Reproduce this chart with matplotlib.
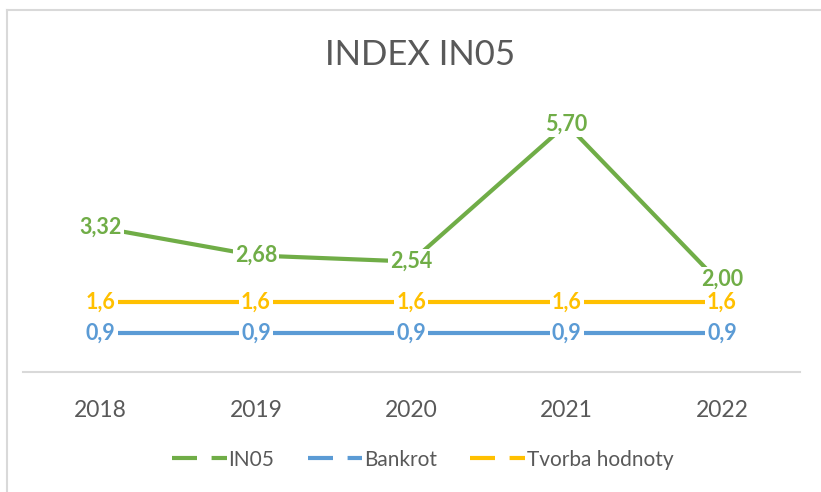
import matplotlib
matplotlib.use("Agg")
from matplotlib import pyplot as plt
from matplotlib.lines import Line2D

years = ["2018", "2019", "2020", "2021", "2022"]
in05 = [3.32, 2.68, 2.54, 5.70, 2.00]
bankrot = [0.9, 0.9, 0.9, 0.9, 0.9]
tvorba = [1.6, 1.6, 1.6, 1.6, 1.6]

in05Labels = ["3,32", "2,68", "2,54", "5,70", "2,00"]
bankrotLabels = ["0,9"] * 5
tvorbaLabels = ["1,6"] * 5

green = "#70AD47"
blue = "#5B9BD5"
yellow = "#FFC000"
grey = "#595959"

plt.rcParams["font.family"] = ["Lato", "DejaVu Sans"]

fig = plt.figure(figsize=(8.21, 4.92), dpi=100)
ax = fig.add_axes([0.028, 0.244, 0.946, 0.53])

x = list(range(len(years)))
series = [
    (in05, in05Labels, green, "IN05", 5),
    (bankrot, bankrotLabels, blue, "Bankrot", 3),
    (tvorba, tvorbaLabels, yellow, "Tvorba hodnoty", 4),
]

for values, labels, color, name, z in series:
    ax.plot(x, values, color=color, lw=3, solid_capstyle="butt", zorder=2)
    for i, (xi, v, lab) in enumerate(zip(x, values, labels)):
        # nudge IN05 label up a little when it sits right on top of the 1,6 label
        dy = 4 if (values is in05 and abs(v - tvorba[i]) < 0.5) else 0
        ax.annotate(lab, (xi, v), xytext=(0, dy), textcoords="offset points",
                    color=color, fontsize=15.5, fontweight="bold",
                    ha="center", va="center", zorder=z,
                    bbox=dict(facecolor="white", edgecolor="none", pad=1.5))

ax.set_xlim(-0.5, len(years) - 0.5)
ax.set_ylim(0, 6)
ax.set_xticks(x)
ax.set_xticklabels(years, fontsize=16.5, color=grey)
ax.tick_params(axis="x", length=0, pad=20)
ax.set_yticks([])
for side in ["top", "right", "left"]:
    ax.spines[side].set_visible(False)
ax.spines["bottom"].set_color("#D9D9D9")
ax.spines["bottom"].set_linewidth(1.5)

fig.text(0.512, 0.888, "INDEX IN05", fontsize=25, color=grey,
         ha="center", va="center")

handles = [Line2D([0], [0], color=c, lw=3, dashes=(6, 3.5)) for _, _, c, _, _ in series]
names = [n for _, _, _, n, _ in series]
fig.legend(handles, names, loc="center", bbox_to_anchor=(0.515, 0.066),
           ncol=3, frameon=False, fontsize=15, labelcolor=grey,
           handlelength=2.6, handletextpad=0.1, columnspacing=1.6)

# outer chart border (left and top edges visible)
fig.add_artist(Line2D([0.0085, 0.0085], [0.0, 0.979], color="#D9D9D9", lw=1.5))
fig.add_artist(Line2D([0.0085, 1.0], [0.979, 0.979], color="#D9D9D9", lw=1.5))

fig.savefig("out.png", dpi=100)
